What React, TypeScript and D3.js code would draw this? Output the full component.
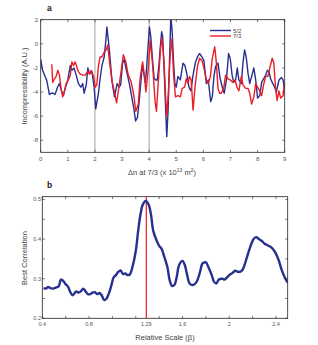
import * as d3 from "d3";
import { useRef, useEffect } from "react";

// panel a: incompressibility traces (x in 1e13 m^-2)
const blueX = [0, 0.07, 0.16, 0.22, 0.32, 0.4, 0.47, 0.53, 0.62, 0.69, 0.78, 0.84, 0.9, 1.0, 1.09, 1.15, 1.23, 1.31, 1.39, 1.48, 1.55, 1.6, 1.68, 1.74, 1.8, 1.89, 1.97, 2.03, 2.13, 2.19, 2.26, 2.34, 2.4, 2.44, 2.5, 2.54, 2.63, 2.72, 2.82, 2.89, 2.95, 3.02, 3.08, 3.14, 3.2, 3.27, 3.35, 3.43, 3.5, 3.57, 3.64, 3.7, 3.75, 3.8, 3.86, 3.9, 3.96, 4.01, 4.06, 4.12, 4.18, 4.24, 4.3, 4.36, 4.41, 4.46, 4.5, 4.55, 4.61, 4.65, 4.7, 4.75, 4.8, 4.85, 4.9, 4.95, 5.0, 5.06, 5.15, 5.25, 5.32, 5.39, 5.47, 5.54, 5.62, 5.7, 5.78, 5.86, 5.95, 6.02, 6.11, 6.18, 6.27, 6.33, 6.39, 6.45, 6.54, 6.62, 6.7, 6.77, 6.85, 6.93, 6.99, 7.06, 7.12, 7.19, 7.25, 7.31, 7.4, 7.46, 7.52, 7.58, 7.65, 7.71, 7.78, 7.86, 7.93, 8.0, 8.08, 8.15, 8.22, 8.3, 8.36, 8.42, 8.48, 8.54, 8.63, 8.69, 8.79, 8.88, 8.94, 8.99];
const blueY = [-1.3, -2.2, -2.7, -3.0, -4.2, -4.1, -4.1, -4.2, -3.6, -3.3, -4.0, -4.3, -3.7, -3.0, -1.8, -2.2, -2.0, -2.6, -3.3, -3.6, -3.3, -4.1, -3.4, -2.0, -2.5, -2.3, -3.6, -5.4, -4.1, -2.9, -1.8, -1.1, 0.2, 1.4, 0.2, -0.7, -3.1, -4.4, -3.3, -3.6, -3.4, -1.6, -1.3, -2.0, -2.6, -3.3, -4.3, -5.3, -6.4, -6.1, -4.6, -3.0, -1.8, -2.4, -3.2, -2.2, -0.2, 1.4, 0.6, -1.2, -2.8, -3.0, -3.0, -1.8, -0.3, 1.0, 0.6, -2.0, -5.5, -7.7, -5.5, -1.5, 2.3, 1.0, -1.5, -3.3, -3.6, -2.7, -3.0, -1.6, -1.8, -2.5, -3.6, -3.9, -2.6, -1.6, -1.1, -0.8, -1.1, -1.4, -3.3, -3.0, -4.8, -4.4, -2.7, -1.9, -1.6, -2.9, -3.6, -4.1, -3.0, -0.8, -1.2, -2.6, -3.2, -3.0, -2.0, -3.0, -3.3, -1.6, -0.5, -1.1, -2.5, -3.3, -2.7, -2.0, -3.0, -4.5, -4.3, -3.2, -2.9, -2.6, -2.2, -2.3, -2.9, -3.2, -3.6, -4.0, -3.0, -2.8, -3.0, -3.7];

const redX = [0.41, 0.44, 0.51, 0.57, 0.63, 0.69, 0.75, 0.81, 0.88, 0.94, 1.02, 1.09, 1.15, 1.21, 1.27, 1.33, 1.39, 1.45, 1.55, 1.64, 1.73, 1.8, 1.86, 1.95, 2.01, 2.07, 2.13, 2.19, 2.25, 2.34, 2.42, 2.47, 2.54, 2.63, 2.72, 2.8, 2.89, 2.97, 3.05, 3.14, 3.23, 3.33, 3.43, 3.51, 3.6, 3.67, 3.76, 3.82, 3.88, 3.97, 4.04, 4.13, 4.22, 4.27, 4.34, 4.42, 4.47, 4.55, 4.61, 4.66, 4.72, 4.78, 4.84, 4.9, 4.97, 5.06, 5.15, 5.22, 5.31, 5.37, 5.43, 5.49, 5.55, 5.62, 5.7, 5.78, 5.86, 5.95, 6.02, 6.11, 6.18, 6.26, 6.33, 6.42, 6.48, 6.54, 6.6, 6.66, 6.75, 6.82, 6.91, 6.99, 7.09, 7.17, 7.24, 7.31, 7.4, 7.46, 7.56, 7.65, 7.71, 7.78, 7.86, 7.93, 8.0, 8.08, 8.15, 8.22, 8.3, 8.38, 8.46, 8.54, 8.6, 8.66, 8.72, 8.79, 8.85, 8.94, 8.99];
const redY = [-1.7, -3.2, -2.9, -2.7, -2.2, -2.6, -3.7, -4.4, -3.9, -3.3, -3.0, -2.6, -1.5, -1.8, -1.5, -1.9, -2.3, -2.5, -2.6, -2.6, -2.3, -2.5, -2.2, -2.7, -3.6, -3.4, -1.8, -1.1, -1.1, -0.7, -0.5, -0.1, -1.5, -3.1, -4.0, -4.9, -3.5, -2.2, -0.9, -1.5, -2.6, -3.1, -4.2, -5.6, -5.0, -2.8, -1.5, -2.6, -4.0, -2.0, 0.3, -1.8, -4.8, -5.6, -3.1, -0.4, 0.5, -1.5, -4.5, -6.0, -3.5, -0.8, 0.4, -2.5, -4.4, -4.3, -4.4, -3.7, -3.6, -2.9, -3.3, -2.7, -3.0, -5.5, -3.4, -1.9, -1.2, -1.4, -2.0, -3.0, -3.3, -2.7, -1.2, -0.25, -1.6, -3.7, -4.1, -4.1, -3.7, -2.6, -2.9, -3.0, -3.2, -3.0, -3.6, -3.9, -2.7, -3.4, -3.7, -3.7, -4.1, -5.0, -4.4, -3.3, -3.6, -3.9, -4.3, -3.4, -2.7, -2.7, -1.9, -1.2, -1.6, -3.6, -4.7, -3.9, -4.5, -4.3, -3.3];

const aXTicks = [0, 1, 2, 3, 4, 5, 6, 7, 8, 9];
const aYTicks = [2, 0, -2, -4, -6, -8];
const aMarkers = [2, 4];
const seriesNames = ["5/2", "7/3"];

// panel b: best correlation vs relative scale
const scaleX = [0.41, 0.43, 0.45, 0.47, 0.49, 0.52, 0.54, 0.56, 0.58, 0.6, 0.62, 0.64, 0.66, 0.69, 0.71, 0.73, 0.75, 0.77, 0.79, 0.81, 0.83, 0.85, 0.87, 0.89, 0.91, 0.93, 0.95, 0.97, 0.99, 1.01, 1.03, 1.05, 1.07, 1.09, 1.11, 1.13, 1.15, 1.17, 1.2, 1.22, 1.24, 1.26, 1.285, 1.31, 1.33, 1.35, 1.38, 1.4, 1.42, 1.44, 1.47, 1.49, 1.51, 1.53, 1.55, 1.57, 1.6, 1.62, 1.64, 1.66, 1.69, 1.72, 1.75, 1.77, 1.8, 1.82, 1.85, 1.87, 1.89, 1.91, 1.94, 1.96, 1.98, 2.0, 2.03, 2.05, 2.08, 2.11, 2.13, 2.15, 2.17, 2.19, 2.21, 2.23, 2.25, 2.28, 2.3, 2.33, 2.36, 2.39, 2.42, 2.45, 2.48, 2.5];
const corrY = [0.276, 0.275, 0.279, 0.276, 0.275, 0.278, 0.281, 0.298, 0.294, 0.286, 0.28, 0.266, 0.258, 0.268, 0.265, 0.268, 0.275, 0.268, 0.261, 0.261, 0.265, 0.266, 0.261, 0.264, 0.257, 0.246, 0.25, 0.263, 0.282, 0.303, 0.309, 0.317, 0.321, 0.312, 0.313, 0.309, 0.311, 0.328, 0.37, 0.42, 0.462, 0.487, 0.496, 0.487, 0.462, 0.42, 0.395, 0.383, 0.376, 0.359, 0.33, 0.296, 0.282, 0.284, 0.304, 0.334, 0.345, 0.334, 0.309, 0.288, 0.284, 0.292, 0.317, 0.338, 0.341, 0.33, 0.309, 0.292, 0.288, 0.298, 0.3, 0.298, 0.303, 0.309, 0.315, 0.32, 0.317, 0.321, 0.334, 0.353, 0.372, 0.389, 0.401, 0.405, 0.401, 0.395, 0.389, 0.384, 0.379, 0.368, 0.349, 0.321, 0.3, 0.29];
const bXLabels = [0.4, 0.8, 1.29, 1.6, 2, 2.4];
const bXMinor = [0.4, 0.6, 0.8, 1.0, 1.2, 1.4, 1.6, 1.8, 2.0, 2.2, 2.4];
const bYLabels = [0.2, 0.3, 0.4, 0.5];
const bYMinor = [0.2, 0.25, 0.3, 0.35, 0.4, 0.45, 0.5];
const bestScale = 1.29;

const BLUE = "#27308f";
const RED = "#ec1c24";
const FONT = "'Liberation Sans', Arial, sans-serif";

export default function App() {
    const ref = useRef<SVGSVGElement | null>(null);

    useEffect(() => {
        const svg = d3.select(ref.current);
        svg.selectAll("*").remove();

        const width = 318;
        const height = 345;
        svg.attr("width", width).attr("height", height);
        const defs = svg.append("defs");

        // box with inward ticks, matlab style
        function box(g: any, x: any, y: any, xt: number[], yt: number[]) {
            const [x0, x1] = x.range();
            const [y0, y1] = y.range();
            const tl = 2.5;
            g.append("rect")
                .attr("x", x0).attr("y", y1)
                .attr("width", x1 - x0).attr("height", y0 - y1)
                .attr("fill", "none").attr("stroke", "#222").attr("stroke-width", 0.8);
            xt.forEach((t) => {
                g.append("line").attr("x1", x(t)).attr("x2", x(t)).attr("y1", y0).attr("y2", y0 - tl)
                    .attr("stroke", "#222").attr("stroke-width", 0.6);
                g.append("line").attr("x1", x(t)).attr("x2", x(t)).attr("y1", y1).attr("y2", y1 + tl)
                    .attr("stroke", "#222").attr("stroke-width", 0.6);
            });
            yt.forEach((t) => {
                g.append("line").attr("x1", x0).attr("x2", x0 + tl).attr("y1", y(t)).attr("y2", y(t))
                    .attr("stroke", "#222").attr("stroke-width", 0.6);
                g.append("line").attr("x1", x1).attr("x2", x1 - tl).attr("y1", y(t)).attr("y2", y(t))
                    .attr("stroke", "#222").attr("stroke-width", 0.6);
            });
        }

        // ---- panel a ----
        const xa = d3.scaleLinear().domain([0, 9]).range([40.7, 284.7]);
        const ya = d3.scaleLinear().domain([-9, 2]).range([152.3, 19.7]);
        const ga = svg.append("g");

        defs.append("clipPath").attr("id", "clipA")
            .append("rect").attr("x", 40.7).attr("y", 19.7).attr("width", 244).attr("height", 132.6);

        aMarkers.forEach((m) => {
            ga.append("line").attr("x1", xa(m)).attr("x2", xa(m)).attr("y1", 19.7).attr("y2", 152.3)
                .attr("stroke", "#777").attr("stroke-width", 0.7);
        });

        const traceLine = d3.line<[number, number]>().x((d) => xa(d[0])).y((d) => ya(d[1]));
        const traces: [number[], number[], string][] = [
            [blueX, blueY, BLUE],
            [redX, redY, RED],
        ];
        traces.forEach(([xs, ys, c]) => {
            ga.append("path")
                .attr("d", traceLine(xs.map((v, i) => [v, ys[i]] as [number, number])))
                .attr("fill", "none").attr("stroke", c).attr("stroke-width", 1.4)
                .attr("stroke-linejoin", "round").attr("clip-path", "url(#clipA)");
        });

        box(ga, xa, ya, aXTicks, aYTicks);

        aXTicks.forEach((t) => {
            ga.append("text").attr("x", xa(t)).attr("y", 160.5).attr("text-anchor", "middle")
                .attr("font-size", 6).attr("fill", "#555").attr("font-family", FONT).text(t);
        });
        aYTicks.forEach((t) => {
            ga.append("text").attr("x", 38).attr("y", ya(t) + 2).attr("text-anchor", "end")
                .attr("font-size", 6).attr("fill", "#555").attr("font-family", FONT).text(t);
        });

        // legend
        [BLUE, RED].forEach((c, i) => {
            ga.append("line").attr("x1", 210).attr("x2", 231).attr("y1", 30.5 + i * 5.5).attr("y2", 30.5 + i * 5.5)
                .attr("stroke", c).attr("stroke-width", 1.4);
            ga.append("text").attr("x", 233).attr("y", 32.5 + i * 5.5).attr("font-size", 6)
                .attr("fill", "#444").attr("font-family", FONT).text(seriesNames[i]);
        });

        ga.append("text").attr("x", 47).attr("y", 11).attr("font-size", 8.5).attr("font-weight", "bold")
            .attr("font-family", FONT).attr("fill", "#222").text("a");

        ga.append("text").attr("transform", "translate(27,86) rotate(-90)").attr("text-anchor", "middle")
            .attr("font-size", 7.5).attr("fill", "#444").attr("font-family", FONT)
            .text("Incompressibility (A.U.)");

        const xl = ga.append("text").attr("x", 162).attr("y", 175).attr("text-anchor", "middle")
            .attr("font-size", 7.5).attr("fill", "#444").attr("font-family", FONT);
        xl.append("tspan").text("\u0394n at 7/3 (x 10");
        xl.append("tspan").attr("dy", -3).attr("font-size", 5).text("13");
        xl.append("tspan").attr("dy", 3).text(" m");
        xl.append("tspan").attr("dy", -3).attr("font-size", 5).text("2");
        xl.append("tspan").attr("dy", 3).text(")");

        // ---- panel b ----
        const xb = d3.scaleLinear().domain([0.4, 2.5]).range([42.3, 287.7]);
        const yb = d3.scaleLinear().domain([0.2, 0.507]).range([318.3, 196.7]);
        const gb = svg.append("g");

        defs.append("clipPath").attr("id", "clipB")
            .append("rect").attr("x", 42.3).attr("y", 196.7).attr("width", 245.4).attr("height", 121.6);

        gb.append("line").attr("x1", xb(bestScale)).attr("x2", xb(bestScale)).attr("y1", 196.7).attr("y2", 318.3)
            .attr("stroke", RED).attr("stroke-width", 1.2);

        const corrLine = d3.line<[number, number]>()
            .x((d) => xb(d[0])).y((d) => yb(d[1])).curve(d3.curveCatmullRom);
        gb.append("path")
            .attr("d", corrLine(scaleX.map((v, i) => [v, corrY[i]] as [number, number])))
            .attr("fill", "none").attr("stroke", BLUE).attr("stroke-width", 2.4)
            .attr("stroke-linejoin", "round").attr("clip-path", "url(#clipB)");

        box(gb, xb, yb, bXMinor, bYMinor);

        bXLabels.forEach((t) => {
            gb.append("text").attr("x", xb(t)).attr("y", 326).attr("text-anchor", "middle")
                .attr("font-size", 5.5).attr("fill", "#555").attr("font-family", FONT).text(t);
        });
        bYLabels.forEach((t) => {
            gb.append("text").attr("x", 41).attr("y", yb(t) + 2).attr("text-anchor", "end")
                .attr("font-size", 5.5).attr("fill", "#555").attr("font-family", FONT).text(t.toFixed(1));
        });

        gb.append("text").attr("x", 47).attr("y", 188).attr("font-size", 8.5).attr("font-weight", "bold")
            .attr("font-family", FONT).attr("fill", "#222").text("b");

        gb.append("text").attr("transform", "translate(27,258) rotate(-90)").attr("text-anchor", "middle")
            .attr("font-size", 7.5).attr("fill", "#444").attr("font-family", FONT).text("Best Correlation");

        gb.append("text").attr("x", 165).attr("y", 340).attr("text-anchor", "middle")
            .attr("font-size", 7.5).attr("fill", "#444").attr("font-family", FONT).text("Relative Scale (\u03b2)");
    }, []);

    return (
        <svg ref={ref} style={{ position: "absolute", left: 0, top: 0, background: "#fff" }}></svg>
    );
}
